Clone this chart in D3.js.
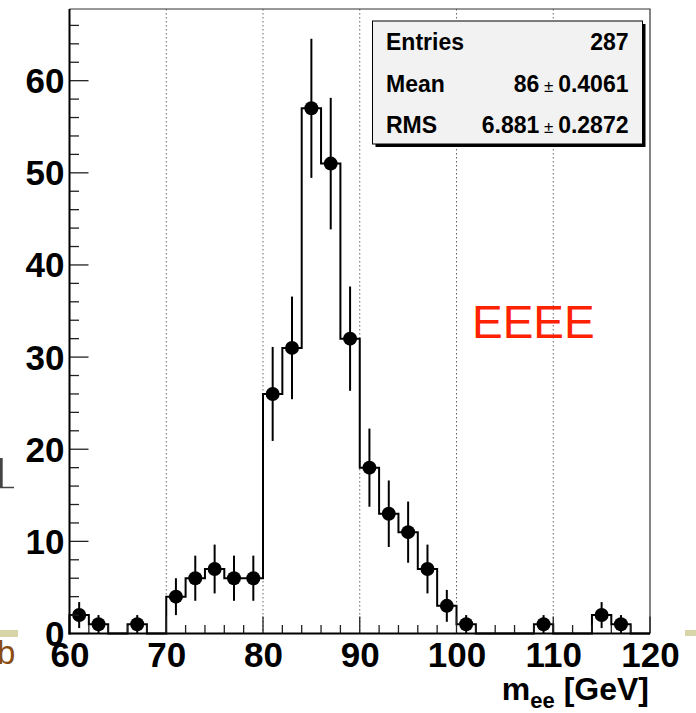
<!DOCTYPE html>
<html>
<head>
<meta charset="utf-8">
<script src="https://cdn.jsdelivr.net/npm/d3@7"></script>
<style>
  body { margin: 0; background: #fff; }
  svg { display: block; font-family: "Liberation Sans", Arial, Helvetica, sans-serif; }
</style>
</head>
<body>
<div id="chart"></div>
<script>
// histogram bins (2 GeV wide, 60..120)
var binLow = [60, 62, 64, 66, 68, 70, 72, 74, 76, 78, 80, 82, 84, 86, 88,
              90, 92, 94, 96, 98, 100, 102, 104, 106, 108, 110, 112, 114, 116, 118];
var counts = [2, 1, 0, 1, 0, 4, 6, 7, 6, 6, 26, 31, 57, 51, 32,
              18, 13, 11, 7, 3, 1, 0, 0, 0, 1, 0, 0, 2, 1, 0];
var errors = [1.41, 1, 0, 1, 0, 2, 2.45, 2.65, 2.45, 2.45, 5.1, 5.57, 7.55, 7.14, 5.66,
              4.24, 3.61, 3.32, 2.65, 1.73, 1, 0, 0, 0, 1, 0, 0, 1.41, 1, 0];
var binWidth = 2;
var xTicks = [60, 70, 80, 90, 100, 110, 120];
var yTicks = [0, 10, 20, 30, 40, 50, 60];
var gridX = [70, 80, 90, 100, 110];
var statNames = ["Entries", "Mean", "RMS"];
var statValues = [["287"], ["86", "0.4061"], ["6.881", "0.2872"]];

var W = 696, H = 713;
var svg = d3.select("#chart").append("svg").attr("width", W).attr("height", H);

var x = d3.scaleLinear().domain([60, 120]).range([69.5, 650]);
var y = d3.scaleLinear().domain([0, 67.78]).range([633.5, 9]);

// slide leftovers around the picture
svg.append("rect").attr("x", 0).attr("y", 630).attr("width", 18).attr("height", 7).attr("fill", "#d8d5a9");
svg.append("rect").attr("x", 685).attr("y", 630).attr("width", 11).attr("height", 6).attr("fill", "#d8d5a9");
svg.append("text").attr("x", -3).attr("y", 664).attr("font-size", 33)
  .attr("fill", "#8a4c12").text("b");
svg.append("line").attr("x1", 1.2).attr("x2", 1.2).attr("y1", 458).attr("y2", 487)
  .attr("stroke", "#444").attr("stroke-width", 3);
svg.append("line").attr("x1", 0).attr("x2", 14).attr("y1", 487.5).attr("y2", 487.5)
  .attr("stroke", "#444").attr("stroke-width", 1.5);

// dotted grid
svg.selectAll(".grid").data(gridX).enter().append("line")
  .attr("x1", function(d) { return x(d); }).attr("x2", function(d) { return x(d); })
  .attr("y1", y.range()[1]).attr("y2", y.range()[0])
  .attr("stroke", "#666").attr("stroke-width", 1).attr("stroke-dasharray", "1.5,2.5");

// frame top/right
svg.append("path")
  .attr("d", "M" + x(60) + "," + y(67.78) + "H" + x(120) + "V" + y(0))
  .attr("fill", "none").attr("stroke", "#333").attr("stroke-width", 1.2);

// histogram outline
var step = d3.line().curve(d3.curveStepAfter)
  .x(function(d) { return x(d[0]); }).y(function(d) { return y(d[1]); });
var stepData = binLow.map(function(b, i) { return [b, counts[i]]; });
stepData.unshift([60, 0]);
stepData.push([120, counts[counts.length - 1]]);
stepData.push([120, 0]);
svg.append("path").attr("d", step(stepData))
  .attr("fill", "none").attr("stroke", "#000").attr("stroke-width", 2);

// error bars + markers
var pts = binLow.map(function(b, i) { return {c: b + binWidth / 2, v: counts[i], e: errors[i]}; })
  .filter(function(d) { return d.v > 0; });
svg.selectAll(".err").data(pts).enter().append("line")
  .attr("x1", function(d) { return x(d.c); }).attr("x2", function(d) { return x(d.c); })
  .attr("y1", function(d) { return y(d.v + d.e); })
  .attr("y2", function(d) { return y(Math.max(0, d.v - d.e)); })
  .attr("stroke", "#000").attr("stroke-width", 2);
svg.selectAll(".pt").data(pts).enter().append("circle")
  .attr("cx", function(d) { return x(d.c); }).attr("cy", function(d) { return y(d.v); })
  .attr("r", 7).attr("fill", "#000");

// axes
var yMinor = d3.range(0, 67, 2);
svg.selectAll(".ymin").data(yMinor).enter().append("line")
  .attr("x1", x(60)).attr("x2", function(d) { return x(60) + (d % 10 === 0 ? 19 : 9.5); })
  .attr("y1", function(d) { return y(d); }).attr("y2", function(d) { return y(d); })
  .attr("stroke", "#222").attr("stroke-width", 1.3);
var xMinor = d3.range(60, 121, 2);
svg.selectAll(".xmin").data(xMinor).enter().append("line")
  .attr("x1", function(d) { return x(d); }).attr("x2", function(d) { return x(d); })
  .attr("y1", y(0)).attr("y2", function(d) { return y(0) - (d % 10 === 0 ? 17 : 8.5); })
  .attr("stroke", "#222").attr("stroke-width", 1.3);
svg.append("line").attr("x1", x(60)).attr("x2", x(60)).attr("y1", y(67.78)).attr("y2", y(0) + 1)
  .attr("stroke", "#000").attr("stroke-width", 2);
svg.append("line").attr("x1", x(60) - 1).attr("x2", x(120)).attr("y1", y(0)).attr("y2", y(0))
  .attr("stroke", "#000").attr("stroke-width", 2);

svg.selectAll(".ylab").data(yTicks).enter().append("text")
  .attr("x", 64.5).attr("y", function(d) { return y(d) + 12.5; })
  .attr("text-anchor", "end").attr("font-size", 35).attr("font-weight", "bold")
  .text(function(d) { return d; });
svg.selectAll(".xlab").data(xTicks).enter().append("text")
  .attr("x", function(d) { return x(d) + 0.5; }).attr("y", 667)
  .attr("text-anchor", "middle").attr("font-size", 35).attr("font-weight", "bold")
  .text(function(d) { return d; });

var title = svg.append("text").attr("x", 649).attr("y", 700)
  .attr("text-anchor", "end").attr("font-size", 32).attr("font-weight", "bold");
title.append("tspan").text("m");
title.append("tspan").attr("font-size", 22).attr("dy", 8).text("ee");
title.append("tspan").attr("dy", -8).text(" [GeV]");

// red label
svg.append("text").attr("x", 472).attr("y", 337.5).attr("font-size", 46)
  .attr("fill", "#ff2200").text("EEEE");

// stats box
var bx = 372.5, by = 21, bw = 270, bh = 123;
svg.append("rect").attr("x", bx + 3).attr("y", by + 3).attr("width", bw).attr("height", bh).attr("fill", "#000");
svg.append("rect").attr("x", bx).attr("y", by).attr("width", bw).attr("height", bh)
  .attr("fill", "#f2f2f2").attr("stroke", "#000").attr("stroke-width", 1);
var rowY = [50, 91.5, 132.5];
statNames.forEach(function(n, i) {
  svg.append("text").attr("x", 386).attr("y", rowY[i]).attr("font-size", 23)
    .attr("font-weight", "bold").text(n);
  var t = svg.append("text").attr("x", 628.5).attr("y", rowY[i]).attr("font-size", 23)
    .attr("font-weight", "bold").attr("text-anchor", "end");
  var v = statValues[i];
  t.append("tspan").text(v[0]);
  if (v.length > 1) {
    t.append("tspan").attr("font-weight", "normal").attr("font-size", 17).text(" \u00b1 ");
    t.append("tspan").text(v[1]);
  }
});
</script>
</body>
</html>
